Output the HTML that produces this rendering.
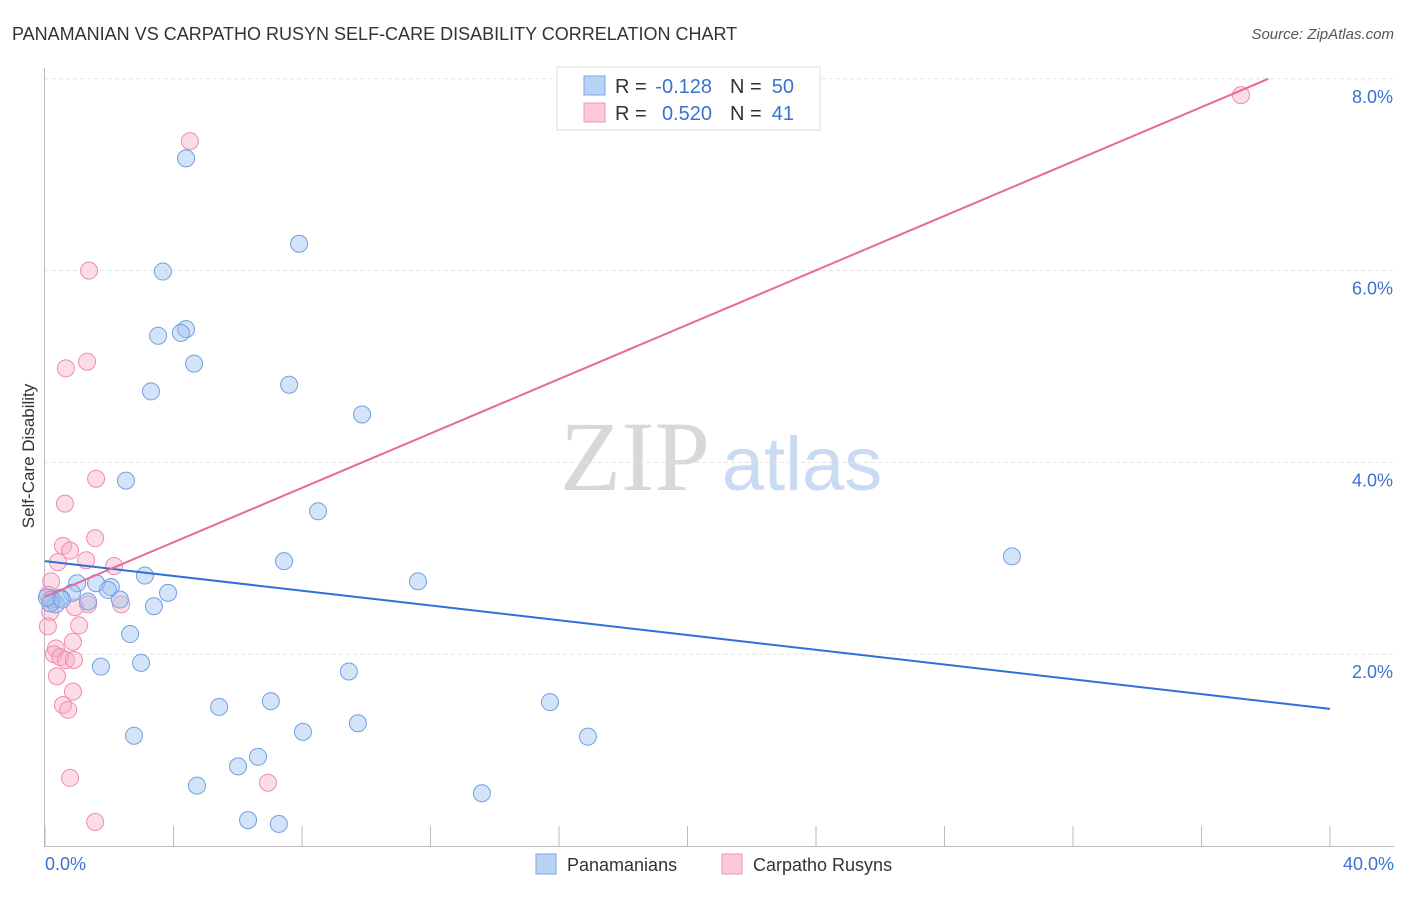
<!DOCTYPE html>
<html><head><meta charset="utf-8"><style>
body{margin:0;background:#fff;font-family:"Liberation Sans",sans-serif;}
svg text{font-family:"Liberation Sans",sans-serif;}
</style></head><body>
<svg id="chart" width="1406" height="892" xmlns="http://www.w3.org/2000/svg">
<text x="12" y="40" font-size="18" fill="#333">PANAMANIAN VS CARPATHO RUSYN SELF-CARE DISABILITY CORRELATION CHART</text>
<text x="1394" y="39" font-size="15" fill="#555" text-anchor="end" font-style="italic">Source: ZipAtlas.com</text>
<text transform="translate(34,456) rotate(-90)" font-size="17" fill="#333" text-anchor="middle">Self-Care Disability</text>
<g>
<text x="635" y="490" font-size="100" fill="#d8d8d8" style="font-family:'Liberation Serif',serif" text-anchor="middle">ZIP</text>
<text x="802" y="490" font-size="76" fill="#c9daf3" text-anchor="middle">atlas</text>
</g>
<g id="grid"></g>
<g id="axes"></g>
<g id="pts"></g>
<g id="lines"></g>
<g>
<rect x="557" y="67" width="263" height="63" fill="#fff" stroke="#ddd"/>
<rect x="584" y="76" width="21" height="19" fill="#b9d3f5" stroke="#7aa6e6"/>
<text x="615" y="93" font-size="20" fill="#333">R =</text>
<text x="712" y="93" font-size="20" fill="#3a72d3" text-anchor="end">-0.128</text>
<text x="730" y="93" font-size="20" fill="#333">N =</text>
<text x="794" y="93" font-size="20" fill="#3a72d3" text-anchor="end">50</text>
<rect x="584" y="103" width="21" height="19" fill="#fcc8d8" stroke="#f094b3"/>
<text x="615" y="120" font-size="20" fill="#333">R =</text>
<text x="712" y="120" font-size="20" fill="#3a72d3" text-anchor="end">0.520</text>
<text x="730" y="120" font-size="20" fill="#333">N =</text>
<text x="794" y="120" font-size="20" fill="#3a72d3" text-anchor="end">41</text>
</g>
<g>
<rect x="536" y="854" width="20" height="20" fill="#b9d3f5" stroke="#7aa6e6"/>
<text x="567" y="871" font-size="18" fill="#333">Panamanians</text>
<rect x="722" y="854" width="20" height="20" fill="#fcc8d8" stroke="#f094b3"/>
<text x="753" y="871" font-size="18" fill="#333">Carpatho Rusyns</text>
</g>
</svg>
<script>
const blueX=[4.39,7.91,3.67,3.52,4.39,4.23,4.64,3.30,7.60,9.87,2.52,8.50,7.44,30.10,11.61,3.11,2.05,1.59,1.00,0.84,0.47,0.22,0.34,1.34,1.96,2.33,3.83,3.39,2.65,2.99,1.74,9.46,7.03,5.42,15.72,9.74,8.03,2.77,16.90,6.63,6.01,4.73,13.60,6.32,7.28,0.16,0.06,0.53];
const blueY=[7.17,6.28,5.99,5.32,5.39,5.35,5.03,4.74,4.81,4.50,3.81,3.49,2.97,3.02,2.76,2.82,2.70,2.74,2.74,2.64,2.59,2.57,2.52,2.55,2.67,2.57,2.64,2.50,2.21,1.91,1.87,1.82,1.51,1.45,1.50,1.28,1.19,1.15,1.14,0.93,0.83,0.63,0.55,0.27,0.23,2.53,2.59,2.57];
const pinkX=[4.51,37.23,1.37,1.31,0.65,1.59,0.62,1.56,0.56,0.78,1.28,0.40,2.15,0.19,0.09,1.34,2.37,0.93,0.16,1.06,0.09,0.87,0.34,0.28,0.47,0.65,0.90,0.37,0.87,0.56,0.72,0.78,6.94,1.56,0.16];
const pinkY=[7.35,7.83,6.00,5.05,4.98,3.83,3.57,3.21,3.13,3.08,2.98,2.96,2.92,2.76,2.62,2.52,2.52,2.49,2.44,2.30,2.29,2.13,2.06,2.00,1.97,1.94,1.94,1.77,1.61,1.47,1.42,0.71,0.66,0.25,2.57];
const yTicks=[2,4,6,8];
const yTickLabels=["2.0%","4.0%","6.0%","8.0%"];
const xTicks=[0,4,8,12,16,20,24,28,32,36,40];
const blueTrend=[2.97,1.43];
const pinkTrend=[2.60,0.1418];
const NS="http://www.w3.org/2000/svg";
const sx=v=>45+v*32.125, sy=v=>846-v*95.9;
function mk(tag,attrs,parent){const e=document.createElementNS(NS,tag);for(const k in attrs)e.setAttribute(k,attrs[k]);parent.appendChild(e);return e;}
const grid=document.getElementById('grid'),axes=document.getElementById('axes');
yTicks.forEach((t,i)=>{
 const g=mk('line',{x1:45,x2:1394,y1:sy(t),y2:sy(t),stroke:'#e3e3e3','stroke-dasharray':'4,3'},grid);
 
 
 const l=mk('text',{x:1393,y:sy(t)+24,'font-size':18,fill:'#3a72d3','text-anchor':'end'},axes);
 l.textContent=yTickLabels[i];
 
 
});
const ya=mk('line',{x1:44.5,x2:44.5,y1:68,y2:846,stroke:'#bbb'},axes);


const xa=mk('line',{x1:44,x2:1394,y1:846.5,y2:846.5,stroke:'#bbb'},axes);


xTicks.forEach(t=>{
 const k=mk('line',{x1:sx(t),x2:sx(t),y1:826,y2:846,stroke:'#bbb'},axes);
 
 
});
const xl0=mk('text',{x:45,y:870,'font-size':18,fill:'#3a72d3'},axes);xl0.textContent='0.0%';


const xl1=mk('text',{x:1394,y:870,'font-size':18,fill:'#3a72d3','text-anchor':'end'},axes);xl1.textContent='40.0%';


const pts=document.getElementById('pts');
pinkX.forEach((x,i)=>{
 const c=mk('circle',{cx:sx(x),cy:sy(pinkY[i]),r:8.5,fill:'rgba(248,170,195,0.4)',stroke:'#f08cae','stroke-width':1},pts);
 
 
});
blueX.forEach((x,i)=>{
 const c=mk('circle',{cx:sx(x),cy:sy(blueY[i]),r:8.5,fill:'rgba(160,195,240,0.45)',stroke:'#6f9fe2','stroke-width':1},pts);
 
 
});
const lines=document.getElementById('lines');
const bl=mk('line',{x1:sx(0),y1:sy(blueTrend[0]),x2:sx(40),y2:sy(blueTrend[1]),stroke:'#2f6fd6','stroke-width':2},lines);


const xEnd=(8.0-pinkTrend[0])/pinkTrend[1];
const pl=mk('line',{x1:sx(0),y1:sy(pinkTrend[0]),x2:sx(xEnd),y2:sy(8.0),stroke:'#e8689a','stroke-width':2},lines);


</script>
</body></html>
